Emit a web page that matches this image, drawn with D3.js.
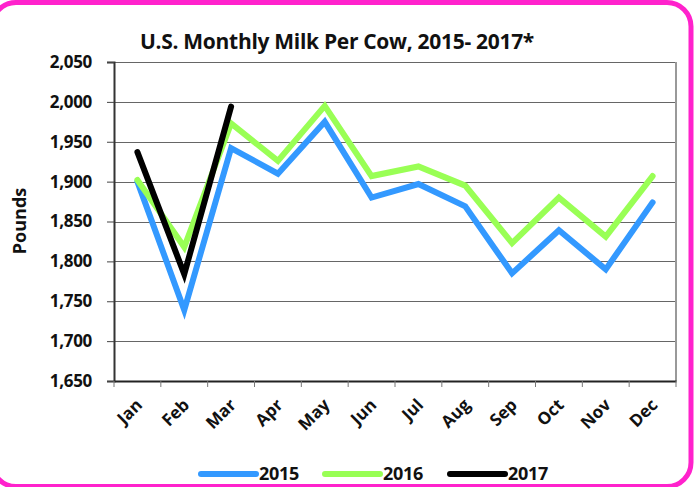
<!DOCTYPE html>
<html>
<head>
<meta charset="utf-8">
<script src="https://cdn.jsdelivr.net/npm/d3@7"></script>
<style>
  body { margin: 0; background: #fff; }
  svg { display: block; font-family: "Open Sans", sans-serif; font-weight: bold; }
</style>
</head>
<body>
<svg id="chart" width="694" height="487"></svg>
<script>
const months = ["Jan","Feb","Mar","Apr","May","Jun","Jul","Aug","Sep","Oct","Nov","Dec"];
const milk2015 = [1900, 1739, 1942, 1910, 1975, 1880, 1897, 1869, 1785, 1839, 1790, 1874];
const milk2016 = [1902, 1818, 1973, 1926, 1995, 1907, 1919, 1895, 1823, 1880, 1831, 1907];
const milk2017 = [1937, 1784, 1994];
const yTicks = [1650, 1700, 1750, 1800, 1850, 1900, 1950, 2000, 2050];
const series = [
  {name: "2015", values: milk2015, color: "#3399ff"},
  {name: "2016", values: milk2016, color: "#99ff55"},
  {name: "2017", values: milk2017, color: "#000000"}
];

const svg = d3.select("#chart");
const L = 114, R = 676, T = 62, B = 381;

// pink rounded frame
svg.append("rect").attr("x", -8).attr("y", 2.5).attr("width", 699).attr("height", 484)
  .attr("rx", 24).attr("fill", "#fff").attr("stroke", "#ff22cc").attr("stroke-width", 5);

const x = d3.scaleBand().domain(months).range([L, R]);
const y = d3.scaleLinear().domain([1650, 2050]).range([B, T]);

// gridlines
svg.append("g").selectAll("line").data(yTicks.slice(1)).join("line")
  .attr("x1", L).attr("x2", R).attr("y1", d => Math.round(y(d)) + 0.5).attr("y2", d => Math.round(y(d)) + 0.5)
  .attr("stroke", "#666").attr("stroke-width", 1);

// right border of plot area
svg.append("line").attr("x1", R).attr("x2", R).attr("y1", T).attr("y2", B)
  .attr("stroke", "#999").attr("stroke-width", 2);

// y axis
const yAxis = svg.append("g").attr("transform", `translate(${L},0)`)
  .call(d3.axisLeft(y).tickValues(yTicks).tickFormat(d3.format(",")).tickSizeOuter(0).tickSize(7).tickPadding(15));
yAxis.select(".domain").attr("stroke", "#333").attr("stroke-width", 2);
yAxis.selectAll(".tick line").attr("stroke", "#444");
yAxis.selectAll("text").attr("font-size", 17).attr("fill", "#111").attr("letter-spacing", -0.3)
  .attr("font-family", "'Open Sans', sans-serif").attr("font-weight", "bold");

// x axis
const xAxis = svg.append("g").attr("transform", `translate(0,${B})`)
  .call(d3.axisBottom(x).tickSize(0).tickFormat(""));
xAxis.select(".domain").attr("stroke", "#222").attr("stroke-width", 2);
svg.append("g").selectAll("line").data(d3.range(months.length + 1)).join("line")
  .attr("x1", i => L + i * x.step()).attr("x2", i => L + i * x.step())
  .attr("y1", B).attr("y2", B + 6).attr("stroke", "#777");
svg.append("g").selectAll("text").data(months).join("text")
  .attr("transform", d => `translate(${x(d) + x.bandwidth() / 2 - 3},${B + 16}) rotate(-45)`)
  .attr("text-anchor", "end").attr("dy", "0.75em").attr("font-size", 17).attr("fill", "#111")
  .text(d => d);

// lines
const line = d3.line().x((d, i) => x(months[i]) + x.bandwidth() / 2).y(d => y(d));
svg.append("g").selectAll("path").data(series).join("path")
  .attr("d", s => line(s.values)).attr("fill", "none").attr("stroke", s => s.color)
  .attr("stroke-width", 6).attr("stroke-linejoin", "miter").attr("stroke-linecap", "round");

// title
svg.append("text").attr("x", 337).attr("y", 49).attr("text-anchor", "middle")
  .attr("font-size", 21).attr("fill", "#111").attr("letter-spacing", -0.3)
  .text("U.S. Monthly Milk Per Cow, 2015- 2017*");

// y label
svg.append("text").attr("transform", "translate(26,221) rotate(-90)").attr("text-anchor", "middle")
  .attr("font-size", 18).attr("fill", "#111").text("Pounds");

// legend
const legX = [201, 325, 450];
const leg = svg.append("g").selectAll("g").data(series).join("g")
  .attr("transform", (s, i) => `translate(${legX[i]},474)`);
leg.append("line").attr("x1", 0).attr("x2", 55).attr("stroke", s => s.color)
  .attr("stroke-width", 6).attr("stroke-linecap", "round");
leg.append("text").attr("x", 58).attr("dy", "0.36em").attr("font-size", 18).attr("fill", "#111")
  .attr("letter-spacing", -0.3).text(s => s.name);
</script>
</body>
</html>
